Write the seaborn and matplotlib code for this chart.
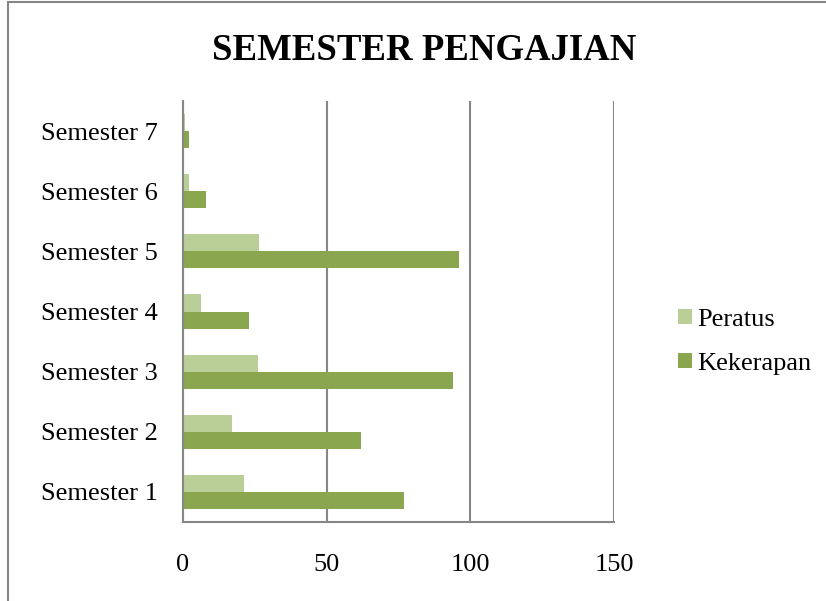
import matplotlib
matplotlib.use("Agg")
import matplotlib.pyplot as plt
import seaborn as sns
import pandas as pd
from matplotlib.patches import Rectangle, Patch

categories = ["Semester 7", "Semester 6", "Semester 5", "Semester 4",
              "Semester 3", "Semester 2", "Semester 1"]
kekerapan = [2, 8, 96, 23, 94, 62, 77]
peratus = [0.55, 2.2, 26.5, 6.35, 26.0, 17.1, 21.3]
series_names = ["Peratus", "Kekerapan"]
x_ticks = [0, 50, 100, 150]

df = pd.DataFrame({
    "Semester": categories * 2,
    "Value": peratus + kekerapan,
    "Series": [series_names[0]] * len(categories) + [series_names[1]] * len(categories),
})

sns.set_style("white")
plt.rcParams["font.family"] = ["Liberation Serif", "DejaVu Serif"]
plt.rcParams["text.color"] = "black"
plt.rcParams["xtick.color"] = "black"
plt.rcParams["ytick.color"] = "black"

colors = {"Peratus": "#BACF98", "Kekerapan": "#8AA64E"}

fig = plt.figure(figsize=(8.26, 6.01), dpi=100)
ax = fig.add_axes([183 / 826, 1 - 522 / 601, (614 - 183) / 826, (522 - 101) / 601])

sns.barplot(data=df, y="Semester", x="Value", hue="Series", order=categories,
            hue_order=series_names, palette=colors, orient="h", width=0.567,
            gap=0, saturation=1, ax=ax, legend=False, edgecolor="none")

ax.set_xlim(0, 150)
ax.set_xticks(x_ticks)
ax.set_xticklabels([str(t) for t in x_ticks])
ax.set_xlabel("")
ax.set_ylabel("")
ax.xaxis.grid(True, color="#868686", linewidth=1.5)
ax.set_axisbelow(True)
for s in ["top", "right"]:
    ax.spines[s].set_visible(False)
for s in ["left", "bottom"]:
    ax.spines[s].set_color("#868686")
    ax.spines[s].set_linewidth(1.5)
ax.tick_params(axis="x", length=0, pad=23, labelsize=19, labelcolor="black")
ax.tick_params(axis="y", length=0, pad=18, labelsize=19, labelcolor="black")

fig.text(424 / 826, 1 - 50 / 601, "SEMESTER PENGAJIAN", ha="center", va="center",
         fontsize=26.5, fontweight="bold", color="black")

handles = [Patch(facecolor=colors[n], edgecolor="none") for n in series_names]
fig.legend(handles, series_names, loc="center left",
           bbox_to_anchor=(660 / 826, 1 - 342 / 601), frameon=False,
           fontsize=19, handlelength=0.5, handleheight=0.5, handletextpad=0.2,
           labelspacing=0.85, borderpad=0.2, labelcolor="black")

fig.patches.append(Rectangle((8 / 826, -0.1), 1.2, 1 - 2 / 601 + 0.1,
                             transform=fig.transFigure, fill=False,
                             edgecolor="#868686", linewidth=1.5))

fig.savefig("out.png", dpi=100)
